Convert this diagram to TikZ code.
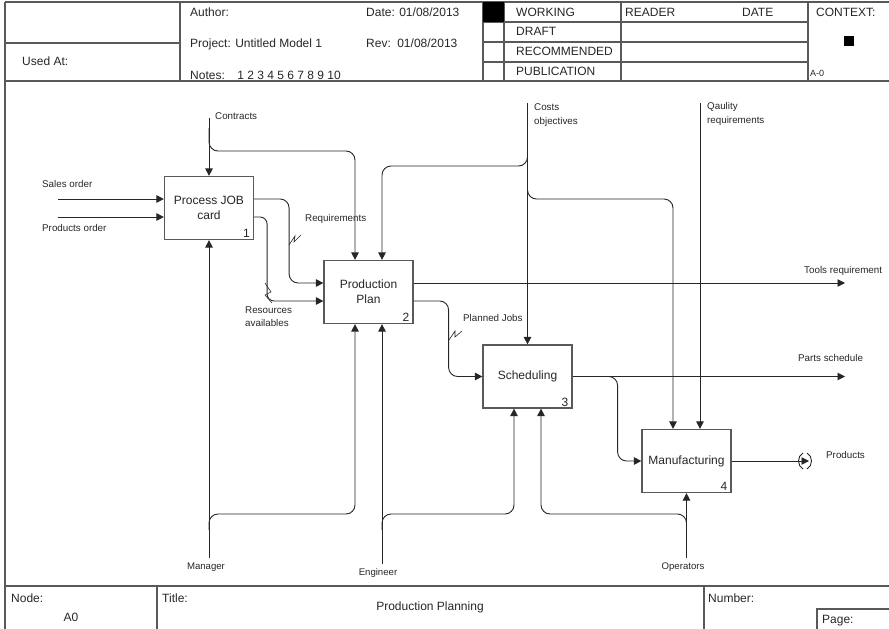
\documentclass[tikz,border=0pt]{standalone}
\usepackage{fontspec}
\setmainfont{Liberation Sans}
\usetikzlibrary{arrows.meta,calc}

\begin{document}
\begin{tikzpicture}[x=1pt,y=-1pt,
  frame/.style={draw=black!65, line width=1.2pt},
  activity/.style={draw=black!65, line width=1.2pt, fill=white,
    minimum width=89pt, minimum height=63pt, inner sep=0pt,
    font=\fontsize{12}{15}\selectfont, align=center, text=black!85},
  flow/.style={draw=black!85, line width=0.9pt, rounded corners=9pt},
  arr/.style={flow, -{Triangle[length=7.5pt,width=7.5pt]}},
  lbl/.style={font=\fontsize{9.8}{13.5}\selectfont, text=black!85,
    inner sep=0pt, anchor=west, align=left},
  mlbl/.style={font=\fontsize{9.6}{12}\selectfont, text=black!85, inner sep=0pt},
  hdr/.style={font=\fontsize{12}{14}\selectfont, text=black!85,
    inner sep=0pt, anchor=west, text height=8.5pt, text depth=2pt},
  num/.style={font=\fontsize{12}{14}\selectfont, text=black!85,
    inner sep=0pt, anchor=south east},
  squig/.style={draw=black!85, line width=0.6pt},
]
\useasboundingbox (0,0) rectangle (889,629);

% ---------- header frame ----------
\draw[frame] (5,2) -- (889,2);
\draw[frame] (5,2) -- (5,629);
\draw[frame] (5,81) -- (889,81);
\draw[frame] (5,43) -- (180,43);
\draw[frame] (180,2) -- (180,81);
\draw[frame] (483,2) -- (483,81);
\draw[frame] (504,2) -- (504,81);
\draw[frame] (621,2) -- (621,81);
\draw[frame] (808,2) -- (808,81);
\foreach \yy in {22,42,62} \draw[frame] (483,\yy) -- (808,\yy);
\fill[black] (483,2) rectangle (504,22);
\fill[black] (844,35.5) rectangle (854,45.5);

\node[hdr] (usedat) at (22,62) {Used At:};
\node[hdr] (author) at (190,13) {Author:};
\node[hdr] (project) at (190,44) {Project: Untitled Model 1};
\node[hdr] (notes) at (190,76) {Notes:\hspace{8pt} 1 2 3 4 5 6 7 8 9 10};
\node[hdr] (date) at (366,13) {Date: 01/08/2013};
\node[hdr] (rev) at (366,44) {Rev:\hspace{2pt} 01/08/2013};
\node[hdr] (working) at (516,13) {WORKING};
\node[hdr] (draft) at (516,32.5) {DRAFT};
\node[hdr] (recommended) at (516,52.5) {RECOMMENDED};
\node[hdr] (publication) at (516,72.5) {PUBLICATION};
\node[hdr] (reader) at (625,13) {READER};
\node[hdr] (datecol) at (742,13) {DATE};
\node[hdr] (context) at (816,13) {CONTEXT:};
\node[hdr, font=\fontsize{9}{11}\selectfont] (azero) at (810,73.5) {A-0};

% ---------- footer frame ----------
\draw[frame] (5,586) -- (889,586);
\draw[frame] (157,586) -- (157,629);
\draw[frame] (704,586) -- (704,629);
\draw[frame] (817,629) -- (817,609) -- (889,609);
\node[hdr] (nodelbl) at (11,599) {Node:};
\node[hdr, anchor=center] (nodeval) at (71,618) {A0};
\node[hdr] (titlelbl) at (162,599) {Title:};
\node[hdr, anchor=center] (titleval) at (430,607) {Production Planning};
\node[hdr] (numberlbl) at (708,599) {Number:};
\node[hdr] (pagelbl) at (822,620) {Page:};

% ---------- activities ----------
\node[activity] (b1) at (209,208) {Process JOB\\card};
\node[activity] (b2) at (368.5,292) {Production\\Plan};
\node[activity] (b3) at (527.5,376.5) {Scheduling};
\node[activity] (b4) at (686.5,461) {Manufacturing};
\node[num] (n1) at ($(b1.south east)+(-4,-2)$) {1};
\node[num] (n2) at ($(b2.south east)+(-4,-2)$) {2};
\node[num] (n3) at ($(b3.south east)+(-4,-2)$) {3};
\node[num] (n4) at ($(b4.south east)+(-4,-2)$) {4};

% ---------- free ends ----------
\coordinate (so) at (58,199);
\coordinate (po) at (58,217);
\coordinate (ct) at (209,118);
\coordinate (ctb) at (209,128);
\coordinate (co) at (527.5,103);
\coordinate (cob1) at (527.5,150);
\coordinate (cob2) at (527.5,184);
\coordinate (ql) at (700,103);
\coordinate (tr) at (845,283);
\coordinate (ps) at (845,376.5);
\coordinate (pr) at (809,461);
\coordinate (mg) at (209,558);
\coordinate (mgb) at (209,530);
\coordinate (en) at (382,564);
\coordinate (enb) at (382,530);
\coordinate (op) at (686.5,558);
\coordinate (opb) at (686.5,530);

% ---------- inputs ----------
\draw[arr] (so) -- (so -| b1.west);
\draw[arr] (po) -- (po -| b1.west);

% ---------- controls ----------
\draw[arr] (ct) -- (b1.north);
\draw[arr] (ctb) |- (300,151) -| ($(b2.north)+(-13.5,0)$);
\draw[arr] (co) -- (b3.north);
\draw[arr] (cob1) |- (450,166) -| ($(b2.north)+(13.5,0)$);
\draw[arr] (cob2) |- (600,199) -| ($(b4.north)+(-13.5,0)$);
\draw[arr] (ql) -- ($(b4.north)+(13.5,0)$);

% ---------- outputs between activities ----------
\draw[arr] ($(b1.east)+(0,-9)$) -- ++(35,0) |- ($(b2.west)+(0,-9)$);
\draw[arr, rounded corners=7pt] ($(b1.east)+(0,9)$) -- ++(13,0) |- ($(b2.west)+(0,9)$);
\draw[arr] ($(b2.east)+(0,-9)$) -- (tr);
\draw[arr] ($(b2.east)+(0,9)$) -- ++(35,0) |- (b3.west);
\draw[arr] (b3.east) -- (ps);
\draw[arr] ($(b3.east)+(24,0)$) -- ++(21,0) |- (b4.west);
\draw[arr] (b4.east) -- (pr);
% tunnel brackets on the Products arrow
\draw[squig, line width=0.9pt] (803,453) .. controls (797,456) and (797,466) .. (803,469);
\draw[squig, line width=0.9pt] (807,453) .. controls (813,456) and (813,466) .. (807,469);

% ---------- mechanisms ----------
\draw[arr] (mg) -- (b1.south);
\draw[arr] (mgb) |- (280,514) -| ($(b2.south)+(-13.5,0)$);
\draw[arr] (en) -- ($(b2.south)+(13.5,0)$);
\draw[arr] (enb) |- (450,514) -| ($(b3.south)+(-13.5,0)$);
\draw[arr] (op) -- (b4.south);
\draw[arr] (opb) |- (600,514) -| ($(b3.south)+(13.5,0)$);

% ---------- squiggles tying labels to arrows ----------
\draw[squig] (289,245) -- (295,236) -- (294,242) -- (301,235);
\draw[squig] (272,303) -- (265,295) -- (271,292) -- (265,283);
\draw[squig] (449,340) -- (455,331) -- (455,337) -- (462,331);

% ---------- arrow labels ----------
\node[lbl] (l_so) at (42,184) {Sales order};
\node[lbl] (l_po) at (42,228) {Products order};
\node[lbl] (l_ct) at (215,116) {Contracts};
\node[lbl] (l_rq) at (305,219) {Requirements};
\node[lbl] (l_ra) at (245,316.5) {Resources\\availables};
\node[lbl] (l_co) at (534,115) {Costs\\objectives};
\node[lbl] (l_ql) at (707,114) {Qaulity\\requirements};
\node[lbl] (l_tr) at (804,271) {Tools requirement};
\node[lbl] (l_pj) at (463,318) {Planned Jobs};
\node[lbl] (l_ps) at (798,358) {Parts schedule};
\node[lbl] (l_pr) at (826,455) {Products};
\node[mlbl] (l_mg) at (206,567) {Manager};
\node[mlbl] (l_en) at (378,573) {Engineer};
\node[mlbl] (l_op) at (683,567) {Operators};

\end{tikzpicture}
\end{document}
